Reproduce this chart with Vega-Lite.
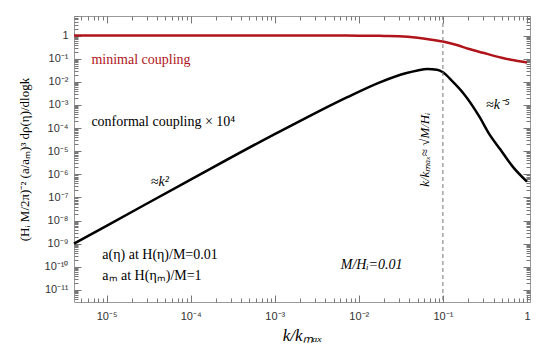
{
  "$schema": "https://vega.github.io/schema/vega-lite/v6.json",
  "width": 456,
  "height": 286,
  "autosize": "none",
  "padding": {"left": 74, "top": 16, "right": 10, "bottom": 48},
  "background": "white",
  "config": {
    "view": {"stroke": "#999", "strokeWidth": 1},
    "axis": {
      "domain": false,
      "tickColor": "#777",
      "tickWidth": 1,
      "grid": false,
      "labelFont": "Liberation Sans",
      "labelFontSize": 11,
      "labelColor": "#333",
      "labelOverlap": false,
      "labelBound": false,
      "labelFlush": false
    }
  },
  "datasets": {
    "curves": [
      {"series": "minimal", "k": 4.1e-6, "v": 1},
      {"series": "minimal", "k": 1e-4, "v": 1},
      {"series": "minimal", "k": 1e-3, "v": 1},
      {"series": "minimal", "k": 5e-3, "v": 0.995},
      {"series": "minimal", "k": 0.01, "v": 0.99},
      {"series": "minimal", "k": 0.02, "v": 0.96},
      {"series": "minimal", "k": 0.03, "v": 0.93},
      {"series": "minimal", "k": 0.05, "v": 0.8},
      {"series": "minimal", "k": 0.07, "v": 0.68},
      {"series": "minimal", "k": 0.1, "v": 0.55},
      {"series": "minimal", "k": 0.15, "v": 0.38},
      {"series": "minimal", "k": 0.2, "v": 0.27},
      {"series": "minimal", "k": 0.3, "v": 0.18},
      {"series": "minimal", "k": 0.5, "v": 0.11},
      {"series": "minimal", "k": 0.7, "v": 0.085},
      {"series": "minimal", "k": 1.0, "v": 0.068},
      {"series": "conformal", "k": 4.1e-6, "v": 1e-9},
      {"series": "conformal", "k": 1e-5, "v": 5.9e-9},
      {"series": "conformal", "k": 1e-4, "v": 5.9e-7},
      {"series": "conformal", "k": 1e-3, "v": 5.5e-5},
      {"series": "conformal", "k": 2.8e-3, "v": 3.8e-4},
      {"series": "conformal", "k": 7.2e-3, "v": 2.1e-3},
      {"series": "conformal", "k": 0.0178, "v": 9.5e-3},
      {"series": "conformal", "k": 0.037, "v": 0.024},
      {"series": "conformal", "k": 0.05, "v": 0.031},
      {"series": "conformal", "k": 0.065, "v": 0.036},
      {"series": "conformal", "k": 0.085, "v": 0.033},
      {"series": "conformal", "k": 0.1, "v": 0.026},
      {"series": "conformal", "k": 0.13, "v": 0.0105},
      {"series": "conformal", "k": 0.174, "v": 3.3e-3},
      {"series": "conformal", "k": 0.276, "v": 2.8e-4},
      {"series": "conformal", "k": 0.35, "v": 6e-5},
      {"series": "conformal", "k": 0.48, "v": 1.2e-5},
      {"series": "conformal", "k": 0.68, "v": 2.1e-6},
      {"series": "conformal", "k": 1.0, "v": 4.8e-7}
    ],
    "notes": [
      {"kind": "red", "k": 6.6e-6, "v": 0.09, "text": "minimal coupling"},
      {"kind": "plain", "k": 6.6e-6, "v": 1.9e-4, "text": "conformal coupling × 10⁴"},
      {"kind": "plain", "k": 8.9e-6, "v": 3.3e-10, "text": "a(η) at  H(η)/M=0.01"},
      {"kind": "plain", "k": 8.9e-6, "v": 4.1e-11, "text": "aₘ at  H(ηₘ)/M=1"},
      {"kind": "center", "k": 4.3e-5, "v": 4.8e-7, "text": "≈k²"},
      {"kind": "center", "k": 0.45, "v": 1e-3, "text": "≈k⁻⁵"},
      {"kind": "center", "k": 0.0142, "v": 1.2e-10, "text": "M/Hᵢ=0.01"},
      {"kind": "vertical", "k": 0.061, "v": 1.15e-5, "text": "k/kₘₐₓ≈ √M/Hᵢ"}
    ]
  },
  "resolve": {"axis": {"x": "independent", "y": "independent"}},
  "layer": [
    {
      "data": {"name": "curves"},
      "transform": [{"filter": "datum.series == 'minimal'"}],
      "mark": {"type": "line", "color": "#b0141a", "strokeWidth": 2.5, "interpolate": "monotone"},
      "encoding": {
        "x": {
          "field": "k", "type": "quantitative",
          "scale": {"type": "log", "domain": [4.1e-6, 1.086], "nice": false},
          "axis": {
            "orient": "bottom",
            "tickSize": 0,
            "title": "k/kₘₐₓ",
            "titleFont": "Liberation Serif",
            "titleFontStyle": "italic",
            "titleFontWeight": "normal",
            "titleFontSize": 17,
            "titleColor": "#000",
            "titlePadding": 6,
            "values": [1e-5,1e-4,1e-3,0.01,0.1,1],
            "labelExpr": "round(log(datum.value)/LN10) == 0 ? '1' : '10' + ['','⁻¹','⁻²','⁻³','⁻⁴','⁻⁵','⁻⁶','⁻⁷','⁻⁸','⁻⁹','⁻¹⁰','⁻¹¹'][-round(log(datum.value)/LN10)]",
            "labelPadding": 8
          }
        },
        "y": {
          "field": "v", "type": "quantitative",
          "scale": {"type": "log", "domain": [3e-12, 7], "nice": false},
          "axis": {
            "orient": "left",
            "tickSize": 0,
            "title": "(Hᵢ M/2π)⁻² (a/aₘ)³ dρ(η)/dlogk",
            "titleFont": "Liberation Serif",
            "titleFontWeight": "normal",
            "titleFontSize": 13,
            "titleColor": "#000",
            "titlePadding": 13,
            "values": [1e-11,1e-10,1e-9,1e-8,1e-7,1e-6,1e-5,1e-4,1e-3,0.01,0.1,1],
            "labelExpr": "round(log(datum.value)/LN10) == 0 ? '1' : '10' + ['','⁻¹','⁻²','⁻³','⁻⁴','⁻⁵','⁻⁶','⁻⁷','⁻⁸','⁻⁹','⁻¹⁰','⁻¹¹'][-round(log(datum.value)/LN10)]",
            "labelPadding": 6
          }
        }
      }
    },
    {
      "data": {"name": "curves"},
      "transform": [{"filter": "datum.series == 'conformal'"}],
      "mark": {"type": "line", "color": "#000", "strokeWidth": 2.5, "interpolate": "monotone"},
      "encoding": {
        "x": {"field": "k", "type": "quantitative", "axis": {"orient": "top", "offset": -286, "labels": false, "title": null, "tickSize": 4,
          "values": [5e-6,6e-6,7e-6,8e-6,9e-6,2e-5,3e-5,4e-5,5e-5,6e-5,7e-5,8e-5,9e-5,2e-4,3e-4,4e-4,5e-4,6e-4,7e-4,8e-4,9e-4,2e-3,3e-3,4e-3,5e-3,6e-3,7e-3,8e-3,9e-3,0.02,0.03,0.04,0.05,0.06,0.07,0.08,0.09,0.2,0.3,0.4,0.5,0.6,0.7,0.8,0.9]}},
        "y": {"field": "v", "type": "quantitative", "axis": {"orient": "right", "offset": -456, "labels": false, "title": null, "tickSize": 4,
          "values": [4e-12,5e-12,6e-12,7e-12,8e-12,9e-12,2e-11,3e-11,4e-11,5e-11,6e-11,7e-11,8e-11,9e-11,2e-10,3e-10,4e-10,5e-10,6e-10,7e-10,8e-10,9e-10,2e-9,3e-9,4e-9,5e-9,6e-9,7e-9,8e-9,9e-9,2e-8,3e-8,4e-8,5e-8,6e-8,7e-8,8e-8,9e-8,2e-7,3e-7,4e-7,5e-7,6e-7,7e-7,8e-7,9e-7,2e-6,3e-6,4e-6,5e-6,6e-6,7e-6,8e-6,9e-6,2e-5,3e-5,4e-5,5e-5,6e-5,7e-5,8e-5,9e-5,2e-4,3e-4,4e-4,5e-4,6e-4,7e-4,8e-4,9e-4,2e-3,3e-3,4e-3,5e-3,6e-3,7e-3,8e-3,9e-3,0.02,0.03,0.04,0.05,0.06,0.07,0.08,0.09,0.2,0.3,0.4,0.5,0.6,0.7,0.8,0.9,2,3,4,5,6,7]}}
      }
    },
    {
      "data": {"values": [{"k": 0.1}]},
      "mark": {"type": "rule", "color": "#777", "strokeWidth": 1, "strokeDash": [4, 3]},
      "encoding": {"x": {"field": "k", "type": "quantitative", "axis": {"orient": "bottom", "offset": -286, "labels": false, "title": null, "tickSize": 4,
          "values": [5e-6,6e-6,7e-6,8e-6,9e-6,2e-5,3e-5,4e-5,5e-5,6e-5,7e-5,8e-5,9e-5,2e-4,3e-4,4e-4,5e-4,6e-4,7e-4,8e-4,9e-4,2e-3,3e-3,4e-3,5e-3,6e-3,7e-3,8e-3,9e-3,0.02,0.03,0.04,0.05,0.06,0.07,0.08,0.09,0.2,0.3,0.4,0.5,0.6,0.7,0.8,0.9]}}}
    },
    {
      "data": {"name": "notes"},
      "transform": [{"filter": "datum.kind == 'red'"}],
      "mark": {"type": "text", "align": "left", "baseline": "middle", "font": "Liberation Serif", "fontSize": 14, "color": "#b0141a"},
      "encoding": {
        "x": {"field": "k", "type": "quantitative", "axis": null},
        "y": {"field": "v", "type": "quantitative", "axis": {"orient": "left", "offset": -456, "labels": false, "title": null, "tickSize": 4,
          "values": [4e-12,5e-12,6e-12,7e-12,8e-12,9e-12,2e-11,3e-11,4e-11,5e-11,6e-11,7e-11,8e-11,9e-11,2e-10,3e-10,4e-10,5e-10,6e-10,7e-10,8e-10,9e-10,2e-9,3e-9,4e-9,5e-9,6e-9,7e-9,8e-9,9e-9,2e-8,3e-8,4e-8,5e-8,6e-8,7e-8,8e-8,9e-8,2e-7,3e-7,4e-7,5e-7,6e-7,7e-7,8e-7,9e-7,2e-6,3e-6,4e-6,5e-6,6e-6,7e-6,8e-6,9e-6,2e-5,3e-5,4e-5,5e-5,6e-5,7e-5,8e-5,9e-5,2e-4,3e-4,4e-4,5e-4,6e-4,7e-4,8e-4,9e-4,2e-3,3e-3,4e-3,5e-3,6e-3,7e-3,8e-3,9e-3,0.02,0.03,0.04,0.05,0.06,0.07,0.08,0.09,0.2,0.3,0.4,0.5,0.6,0.7,0.8,0.9,2,3,4,5,6,7]}},
        "text": {"field": "text"}
      }
    },
    {
      "data": {"name": "notes"},
      "transform": [{"filter": "datum.kind == 'plain'"}],
      "mark": {"type": "text", "align": "left", "baseline": "middle", "font": "Liberation Serif", "fontSize": 14, "color": "#000"},
      "encoding": {
        "x": {"field": "k", "type": "quantitative", "axis": {"orient": "top", "offset": -286, "labels": false, "title": null, "tickSize": 7,
          "values": [1e-5,1e-4,1e-3,0.01,0.1,1]}},
        "y": {"field": "v", "type": "quantitative", "axis": {"orient": "right", "offset": -456, "labels": false, "title": null, "tickSize": 7,
          "values": [1e-11,1e-10,1e-9,1e-8,1e-7,1e-6,1e-5,1e-4,1e-3,0.01,0.1,1]}},
        "text": {"field": "text"}
      }
    },
    {
      "data": {"name": "notes"},
      "transform": [{"filter": "datum.kind == 'center'"}],
      "mark": {"type": "text", "align": "center", "baseline": "middle", "font": "Liberation Serif", "fontSize": 14, "fontStyle": "italic", "color": "#000"},
      "encoding": {
        "x": {"field": "k", "type": "quantitative", "axis": {"orient": "bottom", "offset": -286, "labels": false, "title": null, "tickSize": 7,
          "values": [1e-5,1e-4,1e-3,0.01,0.1,1]}},
        "y": {"field": "v", "type": "quantitative", "axis": {"orient": "left", "offset": -456, "labels": false, "title": null, "tickSize": 7,
          "values": [1e-11,1e-10,1e-9,1e-8,1e-7,1e-6,1e-5,1e-4,1e-3,0.01,0.1,1]}},
        "text": {"field": "text"}
      }
    },
    {
      "data": {"name": "notes"},
      "transform": [{"filter": "datum.kind == 'vertical'"}],
      "mark": {"type": "text", "align": "center", "baseline": "middle", "angle": 270, "font": "Liberation Serif", "fontSize": 13, "fontStyle": "italic", "color": "#000"},
      "encoding": {
        "x": {"field": "k", "type": "quantitative", "axis": null},
        "y": {"field": "v", "type": "quantitative", "axis": null},
        "text": {"field": "text"}
      }
    }
  ]
}
